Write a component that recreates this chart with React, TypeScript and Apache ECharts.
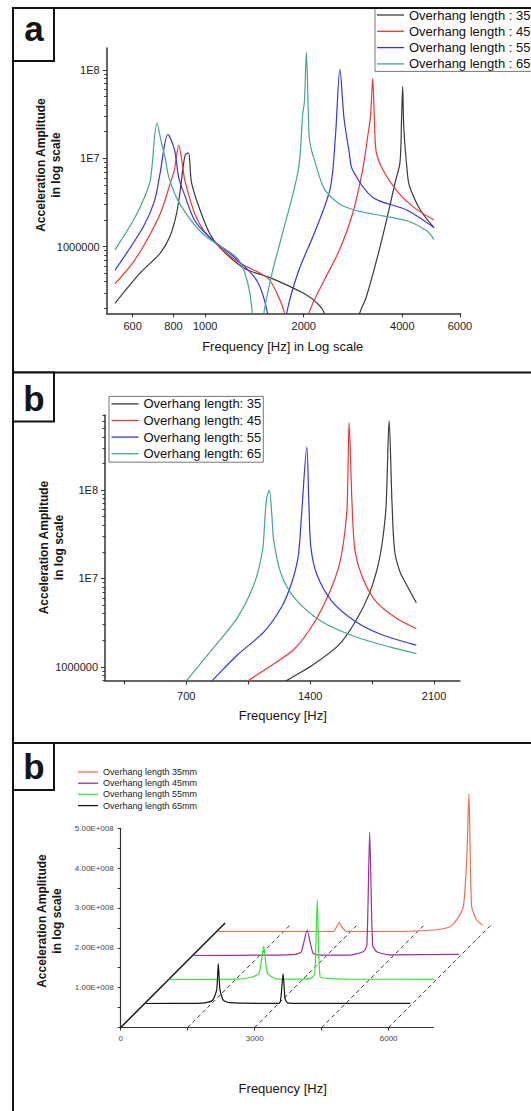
import React, { useEffect, useRef } from 'react';
import * as echarts from 'echarts';

const FONT = '"Liberation Sans", Arial, Helvetica, sans-serif';

// ---------------- Panel a (log-log, two modes) ----------------
const aNames = ['Overhang length : 35', 'Overhang length : 45', 'Overhang length : 55', 'Overhang length : 65'];
const aColors = ['#3a3a3a', '#f03535', '#3434f2', '#45a598'];
const aFreq35 = [530, 632, 728, 780, 816, 840, 856, 870, 889, 908, 964, 1035, 1112, 1314, 1590, 2018, 2221, 2317, 2400, 2850, 2956, 3097, 3332, 3577, 3798, 3936, 3980, 4012, 4043, 4155, 4218, 4542, 5000];
const aAmp35 = [2.28e5, 5.0e5, 8.4e5, 1.3e6, 2.3e6, 4.5e6, 8.0e6, 1.1e7, 1.15e7, 5.3e6, 2.6e6, 1.38e6, 9.6e5, 5.7e5, 4.4e5, 2.9e5, 2.2e5, 1.7e5, 6e4, 6e4, 1.7e5, 2.6e5, 6.8e5, 1.96e6, 5.2e6, 9e6, 2.8e7, 6.5e7, 2.2e7, 6.3e6, 4.7e6, 2.6e6, 1.64e6];
const aFreq45 = [530, 600, 664, 730, 782, 805, 830, 856, 866, 930, 1011, 1253, 1553, 1668, 1750, 1800, 2000, 2067, 2328, 2563, 2818, 3027, 3139, 3200, 3249, 3290, 3332, 3491, 3843, 4329, 5000];
const aAmp45 = [3.8e5, 6.5e5, 1.19e6, 2.4e6, 5.2e6, 7.4e6, 1.4e7, 7.5e6, 5.6e6, 2.34e6, 1.38e6, 6.8e5, 4.4e5, 2.8e5, 1.7e5, 6e4, 6e4, 1.7e5, 4.4e5, 8.9e5, 2.34e6, 7.4e6, 1.8e7, 3.0e7, 8.0e7, 2.5e7, 1.17e7, 7.4e6, 4.3e6, 2.8e6, 2.0e6];
const aFreq55 = [530, 647, 700, 728, 769, 806, 830, 866, 930, 1035, 1253, 1445, 1553, 1600, 1720, 1770, 1925, 2168, 2413, 2500, 2579, 2656, 2754, 2818, 3251, 4127, 5000];
const aAmp55 = [5.4e5, 1.68e6, 3.3e6, 6.8e6, 1.87e7, 1.24e7, 6.0e6, 3.8e6, 1.96e6, 1.26e6, 7.1e5, 4.0e5, 1.7e5, 6e4, 6e4, 1.7e5, 5.2e5, 1.5e6, 4.7e6, 1.8e7, 1.02e8, 2.8e7, 1.17e7, 7.4e6, 3.6e6, 2.6e6, 1.64e6];
const aFreq65 = [530, 604, 650, 680, 712, 735, 755, 775, 836, 987, 1253, 1346, 1395, 1420, 1480, 1509, 1600, 1708, 1925, 1986, 2010, 2037, 2077, 2110, 2168, 2240, 2328, 2563, 2850, 3251, 4127, 4762, 5000];
const aAmp65 = [9.2e5, 2.0e6, 3.5e6, 5.7e6, 2.5e7, 1.5e7, 1.0e7, 6.0e6, 3.05e6, 1.38e6, 7.4e5, 4.0e5, 1.7e5, 6e4, 6e4, 1.7e5, 5.0e5, 1.26e6, 7.4e6, 3.2e7, 4.4e7, 1.58e8, 1.8e7, 1.25e7, 9.0e6, 6.0e6, 4.3e6, 3.05e6, 2.6e6, 2.34e6, 1.96e6, 1.5e6, 1.2e6];
const aXTicks = [600, 800, 1000, 2000, 4000, 6000];
const aYTicks = [1e6, 1e7, 1e8];
const aYTickLabels = ['1000000', '1E7', '1E8'];

// ---------------- Panel b (linear freq, log amplitude) ----------------
const bNames = ['Overhang length: 35', 'Overhang length: 45', 'Overhang length: 55', 'Overhang length: 65'];
const bColors = ['#3a3a3a', '#f03535', '#3434f2', '#45a598'];
const bFreq35 = [1230, 1270, 1408, 1561, 1656, 1733, 1781, 1809, 1829, 1846, 1863, 1877, 1905, 1943, 2000];
const bAmp35 = [6.2e5, 7.06e5, 1.03e6, 1.76e6, 3.26e6, 6.6e6, 1.34e7, 2.7e7, 6.7e7, 6.1e8, 6.7e7, 2.08e7, 1.22e7, 8.6e6, 5.3e6];
const bFreq45 = [1020, 1054, 1179, 1312, 1427, 1513, 1561, 1590, 1609, 1620, 1637, 1653, 1695, 1771, 1886, 2000];
const bAmp45 = [6.2e5, 7.06e5, 1.03e6, 1.6e6, 3.26e6, 7.2e6, 1.34e7, 2.7e7, 6.7e7, 5.8e8, 6.7e7, 2.08e7, 1.03e7, 5.5e6, 3.56e6, 2.7e6];
const bFreq55 = [820, 849, 987, 1140, 1236, 1293, 1332, 1351, 1381, 1393, 1404, 1437, 1523, 1656, 1809, 2000];
const bAmp55 = [6.2e5, 7.06e5, 1.35e6, 2.5e6, 4.65e6, 8.6e6, 1.75e7, 5.1e7, 3.05e8, 6.7e7, 2.27e7, 1.12e7, 5.5e6, 3.26e6, 2.29e6, 1.76e6];
const bFreq65 = [680, 704, 834, 987, 1083, 1131, 1143, 1154, 1169, 1184, 1194, 1236, 1312, 1465, 1656, 1848, 2000];
const bAmp65 = [6.2e5, 7.06e5, 1.47e6, 3.56e6, 8.6e6, 2.08e7, 4.3e7, 8.0e7, 1.0e8, 5.1e7, 2.7e7, 1.12e7, 6.0e6, 3.26e6, 2.19e6, 1.68e6, 1.41e6];
const bXTicks = [350, 700, 1050, 1400, 1750, 2100];
const bXLabels = [700, 1400, 2100];
const bYTicks = [1e6, 1e7, 1e8];
const bYTickLabels = ['1000000', '1E7', '1E8'];

// ---------------- Panel c (waterfall, linear) ----------------
const cNames = ['Overhang length 35mm', 'Overhang length 45mm', 'Overhang length 55mm', 'Overhang length 65mm'];
const cColors = ['#ee6e55', '#9a309a', '#35e835', '#151515'];
const cDepth = [4, 3, 2, 1];
const cFreq35 = [20, 2611, 2686, 2745, 2799, 2911, 4105, 4850, 5225, 5374, 5522, 5598, 5649, 5680, 5710, 5820, 5956];
const cAmp35 = [0, 0, 1.2e7, 2.3e7, 1.2e7, 0, 0, 3.7e6, 1.2e7, 2.9e7, 6.2e7, 1.79e8, 3.46e8, 1.79e8, 6.2e7, 2.9e7, 1.6e7];
const cFreq45 = [20, 1800, 2300, 2434, 2562, 2699, 2962, 3500, 3820, 3900, 3963, 4030, 4120, 4400, 5960];
const cAmp45 = [0, 1e6, 3e6, 9.5e6, 6.4e7, 5.5e6, 1e6, 1e6, 9.5e6, 2.5e7, 3.1e8, 2.5e7, 9.5e6, 1.5e6, 3e6];
const cFreq55 = [20, 1500, 1834, 2022, 2129, 2212, 2440, 3000, 3200, 3273, 3327, 3388, 3538, 4000, 5955];
const cAmp55 = [0, 1e6, 5e6, 1.55e7, 8.4e7, 1.55e7, 1e6, 1e6, 4e6, 1.55e7, 2.0e8, 7e6, 3e6, 1e6, 5e5];
const cFreq65 = [20, 1164, 1400, 1523, 1612, 1648, 1686, 1760, 1910, 2500, 3014, 3052, 3099, 3142, 3204, 3600, 5950];
const cAmp65 = [0, 5e5, 3e6, 8.75e6, 3.4e7, 1.0e8, 3.4e7, 8.75e6, 2e6, 5e5, 5e5, 1.7e7, 7.5e7, 1.3e7, 1e6, 5e5, 5e5];
const cXTicks = [0, 1500, 3000, 4500, 6000];
const cXLabels = [0, 3000, 6000];
const cDashFreqs = [1500, 3000, 4500, 6000];

// ---------------- layout ----------------
const A_GRID = { left: 106.7, top: 48, width: 353.2, height: 265.3 };
const A_X = [500, 6000];
const A_Y = [1.757e5, 1.774e8];
const B_GRID = { left: 105, top: 415, width: 354.9, height: 265.5 };
const B_X = [241, 2246];
const B_Y = [7.0e5, 7.06e8];
const C_GRID = { left: 120.7, top: 828.3, width: 312.6, height: 199.2 };
const C_X = [0, 7000];
const C_Y = [0, 5e8];
const DEPTH = 24;

const tickText = { fontFamily: FONT, fontSize: 11, color: '#222' };
const axisLineStyle = { color: '#333', width: 1.5 };

function pairs(f: number[], a: number[]) {
  return f.map((v, i) => [v, a[i]]);
}

function line(name: string, f: number[], a: number[], color: string, xi: number, yi: number, clip: boolean, smooth: number) {
  return {
    type: 'line', name, xAxisIndex: xi, yAxisIndex: yi, data: pairs(f, a),
    symbol: 'none', showSymbol: false, clip, silent: true, smooth,
    lineStyle: { color, width: 1.2 }, itemStyle: { color },
    emphasis: { disabled: true },
  };
}

function logMinor(min: number, max: number) {
  const out: number[] = [];
  for (let e = Math.floor(Math.log10(min)); e <= Math.ceil(Math.log10(max)); e++) {
    for (let m = 2; m <= 9; m++) {
      const v = m * Math.pow(10, e);
      if (v >= min && v <= max) out.push(Math.log10(v));
    }
  }
  return out;
}

function decoLogY(gridIndex: number, range: number[], ticks: number[], labels: string[]) {
  const lt = ticks.map((t) => Math.log10(t));
  return [
    {
      type: 'value', gridIndex, position: 'left', min: Math.log10(range[0]), max: Math.log10(range[1]),
      axisLine: { show: true, onZero: false, lineStyle: axisLineStyle },
      axisTick: { show: true, customValues: lt, length: 4, lineStyle: { color: '#333', width: 1 } },
      axisLabel: {
        show: true, customValues: lt, margin: 7, ...tickText,
        formatter: (v: number) => {
          const i = lt.findIndex((t) => Math.abs(t - v) < 1e-6);
          return i >= 0 ? labels[i] : '';
        },
      },
      splitLine: { show: false },
    },
    {
      type: 'value', gridIndex, position: 'left', min: Math.log10(range[0]), max: Math.log10(range[1]),
      axisLine: { show: false, onZero: false },
      axisTick: { show: true, customValues: logMinor(range[0], range[1]), length: 2.5, lineStyle: { color: '#333', width: 1 } },
      axisLabel: { show: false },
      splitLine: { show: false },
    },
  ];
}

function sciLabel(v: number) {
  if (v <= 0 || Math.abs(v % 1e8) > 1) return '';
  const e = Math.floor(Math.log10(v));
  const m = v / Math.pow(10, e);
  return m.toFixed(2) + 'E+' + String(e).padStart(3, '0');
}

function buildOption() {
  const grids: any[] = [
    { ...A_GRID, outerBoundsMode: 'none' },
    { ...B_GRID, outerBoundsMode: 'none' },
    { ...C_GRID, outerBoundsMode: 'none' },
  ];
  for (let k = 1; k <= 4; k++) {
    grids.push({ left: C_GRID.left + k * DEPTH, top: C_GRID.top - k * DEPTH, width: C_GRID.width, height: C_GRID.height, outerBoundsMode: 'none' });
  }

  const aLt = aXTicks.map((t) => Math.log10(t));
  const plain = (v: number) => String(v);
  const xAxis: any[] = [
    { type: 'log', logBase: 10, gridIndex: 0, min: A_X[0], max: A_X[1], show: false },
    {
      type: 'value', gridIndex: 0, position: 'bottom', min: Math.log10(A_X[0]), max: Math.log10(A_X[1]),
      axisLine: { show: true, onZero: false, lineStyle: axisLineStyle },
      axisTick: { show: true, customValues: aLt, length: 4, lineStyle: { color: '#333', width: 1 } },
      axisLabel: { show: true, customValues: aLt, margin: 7, ...tickText, formatter: (v: number) => String(Math.round(Math.pow(10, v))) },
      splitLine: { show: false },
    },
    {
      type: 'value', gridIndex: 1, position: 'bottom', min: B_X[0], max: B_X[1],
      axisLine: { show: true, onZero: false, lineStyle: axisLineStyle },
      axisTick: { show: true, customValues: bXTicks, length: 4, lineStyle: { color: '#333', width: 1 } },
      axisLabel: { show: true, customValues: bXLabels, margin: 9.5, ...tickText, formatter: plain },
      splitLine: { show: false },
    },
    {
      type: 'value', gridIndex: 2, position: 'bottom', min: C_X[0], max: C_X[1],
      axisLine: { show: true, onZero: false, lineStyle: { color: '#333', width: 1.2 } },
      axisTick: { show: true, customValues: cXTicks, length: 3, lineStyle: { color: '#333', width: 1 } },
      axisLabel: { show: true, customValues: cXLabels, margin: 7, fontFamily: FONT, fontSize: 8, color: '#444', formatter: plain },
      splitLine: { show: false },
    },
  ];
  for (let k = 1; k <= 4; k++) {
    xAxis.push({ type: 'value', gridIndex: 2 + k, min: C_X[0], max: C_X[1], show: false });
  }

  const yAxis: any[] = [
    { type: 'log', logBase: 10, gridIndex: 0, min: A_Y[0], max: A_Y[1], show: false },
    ...decoLogY(0, A_Y, aYTicks, aYTickLabels),
    { type: 'log', logBase: 10, gridIndex: 1, min: B_Y[0], max: B_Y[1], show: false },
    ...decoLogY(1, B_Y, bYTicks, bYTickLabels),
    {
      type: 'value', gridIndex: 2, position: 'left', min: C_Y[0], max: C_Y[1], interval: 5e7,
      axisLine: { show: true, onZero: false, lineStyle: { color: '#333', width: 1.2 } },
      axisTick: { show: true, length: 3, lineStyle: { color: '#333', width: 1 } },
      axisLabel: { show: true, margin: 7, fontFamily: FONT, fontSize: 8, color: '#444', formatter: sciLabel },
      splitLine: { show: false },
    },
  ];
  for (let k = 1; k <= 4; k++) {
    yAxis.push({ type: 'value', gridIndex: 2 + k, min: C_Y[0], max: C_Y[1], show: false });
  }

  const aF = [aFreq35, aFreq45, aFreq55, aFreq65];
  const aA = [aAmp35, aAmp45, aAmp55, aAmp65];
  const bF = [bFreq35, bFreq45, bFreq55, bFreq65];
  const bA = [bAmp35, bAmp45, bAmp55, bAmp65];
  const cF = [cFreq35, cFreq45, cFreq55, cFreq65];
  const cA = [cAmp35, cAmp45, cAmp55, cAmp65];

  const series: any[] = [];
  aNames.forEach((n, i) => series.push(line(n, aF[i], aA[i], aColors[i], 0, 0, true, 0.3)));
  bNames.forEach((n, i) => series.push(line(n, bF[i], bA[i], bColors[i], 2, 3, true, 0.3)));
  cNames.forEach((n, i) => {
    const k = cDepth[i];
    series.push(line(n, cF[i], cA[i], cColors[i], 3 + k, 6 + k, false, 0.2));
  });

  const legendBase = {
    orient: 'vertical', selectedMode: false, icon: 'rect', itemHeight: 1.3,
  };

  return {
    animation: false,
    backgroundColor: '#ffffff',
    grid: grids,
    xAxis,
    yAxis,
    series,
    legend: [
      {
        ...legendBase, data: aNames, left: 375, top: 8.5, itemWidth: 27, itemGap: 3.3,
        padding: [0, 40, 1, 2], borderColor: '#777', borderWidth: 1, backgroundColor: '#fff',
        textStyle: { fontFamily: FONT, fontSize: 13, color: '#111' },
      },
      {
        ...legendBase, data: bNames, left: 109, top: 396.4, itemWidth: 27, itemGap: 3.6,
        padding: [1, 2, 2, 2.5], borderColor: '#777', borderWidth: 1, backgroundColor: '#fff',
        textStyle: { fontFamily: FONT, fontSize: 13, color: '#111' },
      },
      {
        ...legendBase, data: cNames, left: 78, top: 767.5, itemWidth: 20, itemGap: 2.2,
        padding: 0, textStyle: { fontFamily: FONT, fontSize: 9, color: '#222' },
      },
    ],
  };
}

function txt(id: string, x: number, y: number, text: string, font: string, rotation = 0, lineHeight?: number) {
  const style: any = {
    text, font, fill: '#151515',
    align: 'center', verticalAlign: 'middle', textAlign: 'center', textVerticalAlign: 'middle',
  };
  if (lineHeight) style.lineHeight = lineHeight;
  return { type: 'text', id, x, y, rotation, style, z: 10 };
}

function buildGraphics(chart: any) {
  const g: any[] = [];
  const border = { stroke: '#111', lineWidth: 2 };
  g.push({ type: 'line', id: 'bl', shape: { x1: 13, y1: 7, x2: 13, y2: 1111 }, style: border, z: 5 });
  g.push({ type: 'line', id: 'bt', shape: { x1: 13, y1: 8, x2: 531, y2: 8 }, style: border, z: 5 });
  g.push({ type: 'line', id: 'bs1', shape: { x1: 13, y1: 372.5, x2: 531, y2: 372.5 }, style: border, z: 5 });
  g.push({ type: 'line', id: 'bs2', shape: { x1: 13, y1: 743, x2: 531, y2: 743 }, style: border, z: 5 });
  const boxes = [
    { id: 'a', y: 8, h: 53, label: 'a', ty: 28 },
    { id: 'b1', y: 372.5, h: 49, label: 'b', ty: 398 },
    { id: 'b2', y: 743, h: 47, label: 'b', ty: 766 },
  ];
  boxes.forEach((b) => {
    g.push({ type: 'rect', id: 'box' + b.id, shape: { x: 13, y: b.y, width: 41, height: b.h }, style: { fill: '#fff', stroke: '#111', lineWidth: 2 }, z: 6 });
    g.push(txt('lab' + b.id, 34, b.ty, b.label, `bold 35px ${FONT}`));
  });

  const yTitle = 'Acceleration Amplitude\nin log scale';
  g.push(txt('ayt', 48.5, 165, yTitle, `bold 12px ${FONT}`, Math.PI / 2, 15));
  g.push(txt('byt', 51, 547.5, yTitle, `bold 12px ${FONT}`, Math.PI / 2, 15));
  g.push(txt('cyt', 49.7, 921, yTitle, `bold 12px ${FONT}`, Math.PI / 2, 15));
  g.push(txt('axt', 282.7, 346.7, 'Frequency [Hz] in Log scale', `13px ${FONT}`));
  g.push(txt('bxt', 282.8, 715.5, 'Frequency [Hz]', `13px ${FONT}`));
  g.push(txt('cxt', 282.7, 1088.3, 'Frequency [Hz]', `13px ${FONT}`));

  // waterfall decorations, anchored on the panel c axis through the chart's own scale
  const o = chart.convertToPixel({ gridIndex: 2 }, [0, 0]);
  const diagLen = 4.35 * DEPTH;
  g.push({ type: 'line', id: 'diag', shape: { x1: o[0], y1: o[1], x2: o[0] + diagLen, y2: o[1] - diagLen }, style: { stroke: '#111', lineWidth: 1.4 }, z: 1 });
  const dashLen = 4.27 * DEPTH;
  cDashFreqs.forEach((f, i) => {
    const p = chart.convertToPixel({ gridIndex: 2 }, [f, 0]);
    g.push({ type: 'line', id: 'dash' + i, shape: { x1: p[0], y1: p[1], x2: p[0] + dashLen, y2: p[1] - dashLen }, style: { stroke: '#333', lineWidth: 1, lineDash: [4, 3] }, z: 1 });
  });
  return g;
}

export default function App() {
  const ref = useRef<HTMLDivElement>(null);
  useEffect(() => {
    if (!ref.current) return;
    const chart = echarts.init(ref.current, null, { renderer: 'svg' });
    chart.setOption(buildOption() as any);
    chart.setOption({ graphic: buildGraphics(chart) } as any);
    return () => chart.dispose();
  }, []);
  return (
    <div
      ref={ref}
      style={{ position: 'absolute', left: 0, top: 0, width: 531, height: 1111, background: '#fff' }}
    />
  );
}
